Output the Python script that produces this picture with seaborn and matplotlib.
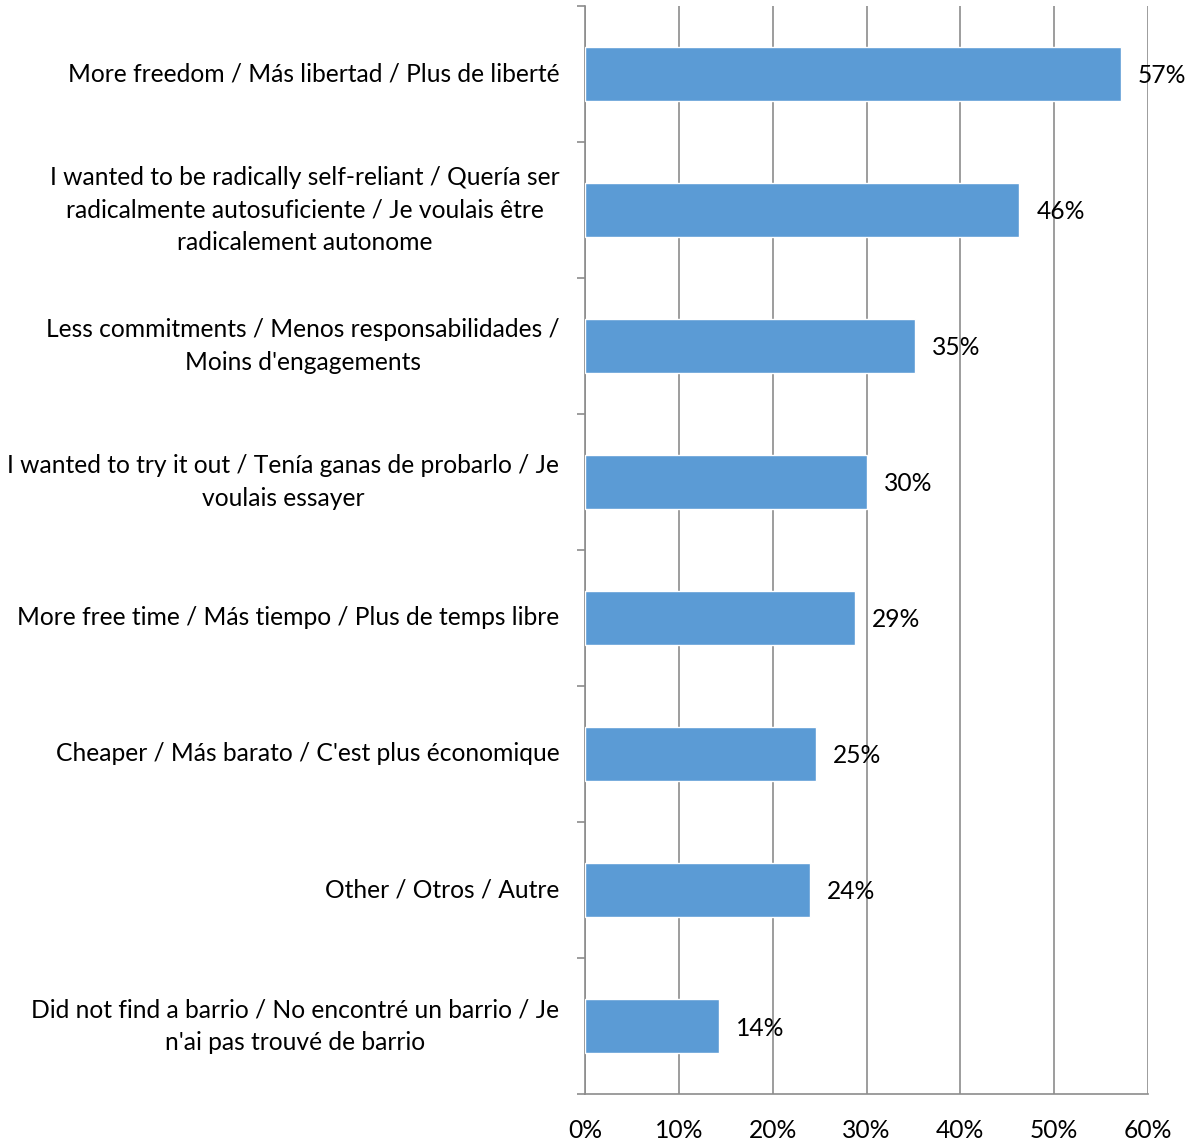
import matplotlib
matplotlib.use("Agg")
import matplotlib.pyplot as plt
import seaborn as sns
import pandas as pd
import numpy as np

categories = [
    "More freedom / Más libertad / Plus de liberté",
    "I wanted to be radically self-reliant / Quería ser\nradicalmente autosuficiente / Je voulais être\nradicalement autonome",
    "Less commitments / Menos responsabilidades /\nMoins d'engagements",
    "I wanted to try it out / Tenía ganas de probarlo / Je\nvoulais essayer",
    "More free time / Más tiempo / Plus de temps libre",
    "Cheaper / Más barato / C'est plus économique",
    "Other / Otros / Autre",
    "Did not find a barrio / No encontré un barrio / Je\nn'ai pas trouvé de barrio",
]
values = [57.1, 46.3, 35.2, 30.1, 28.8, 24.6, 24.0, 14.3]
x_ticks = [0, 10, 20, 30, 40, 50, 60]

df = pd.DataFrame({"reason": categories, "pct": values})

sns.set_theme(style="white")
plt.rcParams["font.family"] = ["Lato", "DejaVu Sans"]

FS = 17.7
GRID = "#8c8c8c"

fig = plt.figure(figsize=(11.94, 11.44), dpi=100)
ax = fig.add_axes([0.49, 0.0437, 0.9615 - 0.49, 0.9948 - 0.0437])

sns.barplot(data=df, y="reason", x="pct", orient="h", color="#5B9BD5",
            saturation=1, width=0.4, ax=ax, zorder=3)

ax.set_xlim(0, 60)
ax.set_ylim(len(categories) - 0.5, -0.5)
ax.set_xticks(x_ticks)
ax.set_xticklabels([f"{t}%" for t in x_ticks], fontsize=FS, color="#000000")
ax.set_xlabel("")
ax.set_ylabel("")

# vertical gridlines
ax.grid(axis="x", color=GRID, linewidth=1.2, zorder=0)
ax.set_axisbelow(True)

for s in ["top", "right"]:
    ax.spines[s].set_visible(False)
for s in ["left", "bottom"]:
    ax.spines[s].set_color(GRID)
    ax.spines[s].set_linewidth(1.2)

ax.tick_params(axis="x", which="major", direction="out", length=5,
               color=GRID, width=1.2, pad=13)
ax.tick_params(axis="y", which="major", length=0, pad=18.5)
ax.set_yticks(range(len(categories)))
ax.set_yticklabels(categories, fontsize=FS, color="#000000", va="center",
                   multialignment="center", linespacing=1.49)

# category boundary ticks on the value axis
ax.set_yticks(np.arange(-0.5, len(categories), 1.0), minor=True)
ax.tick_params(axis="y", which="minor", direction="out", length=6,
               color=GRID, width=1.2, left=True)

for i, v in enumerate(values):
    ax.text(v + 1.8, i, f"{v:.0f}%", va="center_baseline", ha="left",
            fontsize=FS, color="#000000", zorder=4)

fig.savefig("out.png", dpi=100, facecolor="white")
